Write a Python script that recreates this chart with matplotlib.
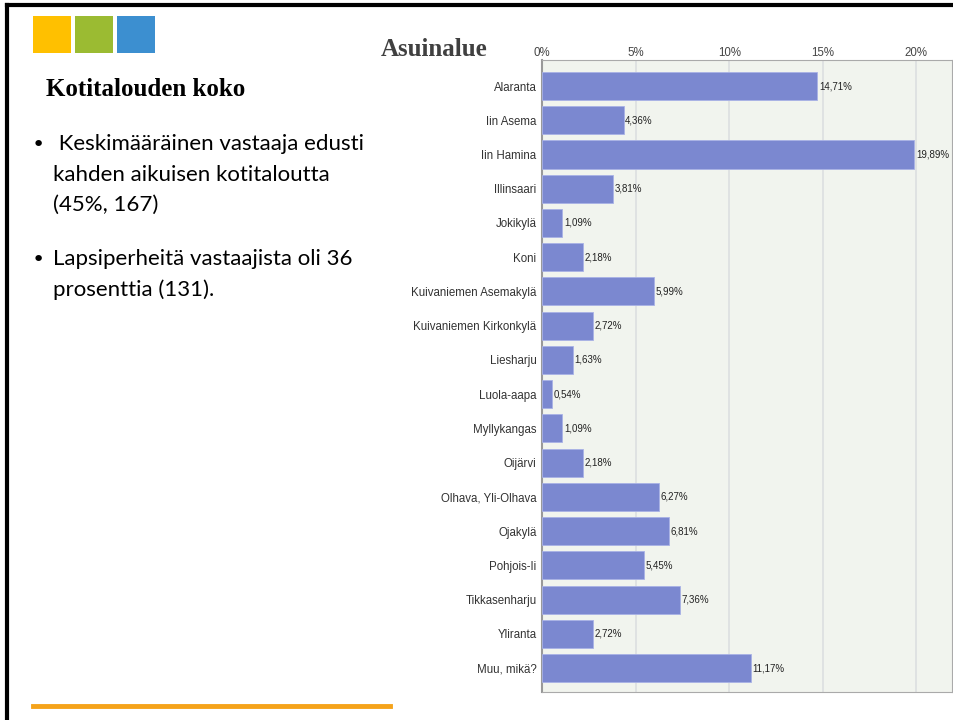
import matplotlib.pyplot as plt
from matplotlib.patches import Rectangle
from matplotlib.lines import Line2D

# Data
areas = ['Alaranta', 'Iin Asema', 'Iin Hamina', 'Illinsaari', 'Jokikylä', 'Koni',
         'Kuivaniemen Asemakylä', 'Kuivaniemen Kirkonkylä', 'Liesharju', 'Luola-aapa',
         'Myllykangas', 'Oijärvi', 'Olhava, Yli-Olhava', 'Ojakylä', 'Pohjois-Ii',
         'Tikkasenharju', 'Yliranta', 'Muu, mikä?']
shares = [14.71, 4.36, 19.89, 3.81, 1.09, 2.18, 5.99, 2.72, 1.63, 0.54,
          1.09, 2.18, 6.27, 6.81, 5.45, 7.36, 2.72, 11.17]
ticks = [0, 5, 10, 15, 20]

W, H = 954, 720
fig = plt.figure(figsize=(W / 100, H / 100), dpi=100)

# Slide frame (top and left edges)
fig.add_artist(Line2D([7 / W, 1], [1 - 5 / H, 1 - 5 / H], color='black', lw=3))
fig.add_artist(Line2D([7 / W, 7 / W], [0, 1 - 5 / H], color='black', lw=3))

# Decorative squares
for x0, c in [(33, '#FFC000'), (75, '#9BBB32'), (117, '#3C8FD0')]:
    fig.add_artist(Rectangle((x0 / W, 1 - 53 / H), 38 / W, 37 / H, color=c, lw=0))

# Bottom orange rule
fig.add_artist(Line2D([33 / W, 390 / W], [1 - 706 / H, 1 - 706 / H], color='#F5A31A', lw=3.5))

# Left-hand text
fig.text(46 / W, 1 - 89 / H, 'Kotitalouden koko', fontsize=18, fontweight='bold',
         family='Liberation Serif', va='center', ha='left', color='black')
body = dict(fontsize=16, family='Lato', va='center', ha='left', color='black')
dot = dict(fontsize=16, family='DejaVu Sans', va='center', ha='left', color='black')
fig.text(32 / W, 1 - 145 / H, '•', **dot)
fig.text(53 / W, 1 - 144 / H, ' Keskimääräinen vastaaja edusti', **body)
fig.text(53 / W, 1 - 175 / H, 'kahden aikuisen kotitaloutta', **body)
fig.text(53 / W, 1 - 205 / H, '(45%, 167)', **body)
fig.text(32 / W, 1 - 260 / H, '•', **dot)
fig.text(53 / W, 1 - 259 / H, 'Lapsiperheitä vastaajista oli 36', **body)
fig.text(53 / W, 1 - 290 / H, 'prosenttia (131).', **body)

# Chart title
fig.text(381 / W, 1 - 49 / H, 'Asuinalue', fontsize=18, fontweight='bold',
         family='Liberation Serif', color='#404040', va='center', ha='left')

# Bar chart
ax = fig.add_axes([542 / W, 1 - 692 / H, 410 / W, 632 / H])
ax.set_facecolor('#f1f4ee')
y = list(range(len(areas)))
ax.barh(y, shares, height=0.82, color='#7b88d0', edgecolor='#a9b2e6', lw=0.6, zorder=3)
for yi, v in zip(y, shares):
    ax.text(v + 0.08, yi, f'{v:.2f}%'.replace('.', ','), fontsize=7,
            family='Liberation Sans', va='center', ha='left', color='#222222', zorder=4)

ax.set_xlim(0, 21.9)
ax.set_ylim(17.70, -0.76)
ax.set_yticks(y)
ax.set_yticklabels(areas, fontsize=8.3, color='#333333', family='Liberation Sans')
ax.xaxis.tick_top()
ax.set_xticks(ticks)
ax.set_xticklabels([f'{t}%' for t in ticks], fontsize=8.3, color='#444444',
                   family='Liberation Sans')
ax.tick_params(axis='y', length=0, pad=4)
ax.tick_params(axis='x', length=0, pad=1)
ax.grid(axis='x', color='#dcdfe0', lw=1.2, zorder=1)
for side in ['top', 'right', 'bottom']:
    ax.spines[side].set_color('#aaaaaa')
ax.spines['left'].set_color('#999999')
ax.spines['left'].set_linewidth(1.5)

fig.savefig('out.png', dpi=100)
